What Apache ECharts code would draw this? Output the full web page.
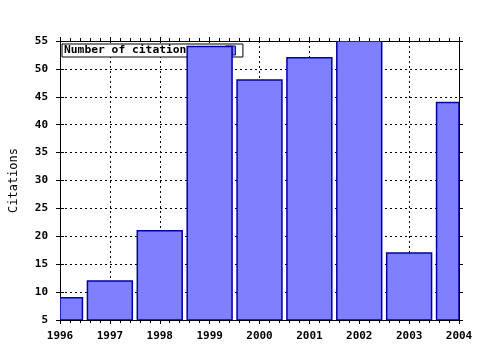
<!DOCTYPE html>
<html><head><meta charset="utf-8">
<script src="https://cdn.jsdelivr.net/npm/echarts@6/dist/echarts.min.js"></script>
<style>html,body{margin:0;padding:0;background:#fff}#c{width:480px;height:350px}</style>
</head><body><div id="c"></div>
<script>
const years = [1996, 1997, 1998, 1999, 2000, 2001, 2002, 2003, 2004];
const citations = [9, 12, 21, 54, 48, 52, 55, 17, 44];
const seriesName = 'Number of citations';
const yTitle = 'Citations';
const yMin = 5, yMax = 55;

const FONT = 'DejaVu Sans Mono';
const FILL = '#8080ff', STROKE = '#0000a0';
const chart = echarts.init(document.getElementById('c'), null, {renderer: 'canvas'});
const gridLine = {show: true, lineStyle: {color: '#000', type: [2, 3], width: 1}};
const lbl = {fontFamily: FONT, fontWeight: 'bold', fontSize: 11, color: '#000'};
chart.setOption({
  animation: false,
  backgroundColor: '#fff',
  grid: {left: 57, right: 21, top: 41, bottom: 30},
  legend: {
    left: 62, top: 44, z: 1,
    align: 'right',
    backgroundColor: '#fff', borderColor: '#000', borderWidth: 1,
    padding: [1, 7, 1, 2],
    itemWidth: 10, itemHeight: 9,
    icon: 'rect',
    formatter: n => n + '    ',
    textStyle: {fontSize: 11.3, fontFamily: FONT, fontWeight: 'bold', color: '#000'},
    data: [{name: seriesName, itemStyle: {color: FILL, borderColor: STROKE, borderWidth: 1}}]
  },
  xAxis: [{
    type: 'value', min: years[0], max: years[years.length - 1], interval: 1,
    axisLine: {show: true, lineStyle: {color: '#000', width: 1}},
    axisTick: {show: true, length: 4, inside: false, lineStyle: {color: '#000'}},
    minorTick: {show: true, splitNumber: 5, length: 3, lineStyle: {color: '#000'}},
    axisLabel: Object.assign({margin: 11, formatter: v => String(v)}, lbl),
    splitLine: gridLine
  }, {
    type: 'value', min: years[0], max: years[years.length - 1], interval: 1, position: 'top',
    axisLine: {show: true, lineStyle: {color: '#000'}},
    axisTick: {show: true, length: 4, lineStyle: {color: '#000'}},
    minorTick: {show: true, splitNumber: 5, length: 3, lineStyle: {color: '#000'}},
    axisLabel: {show: false}, splitLine: {show: false}
  }],
  yAxis: [{
    type: 'value', min: yMin, max: yMax, interval: 5,
    name: yTitle, nameLocation: 'middle', nameGap: 40,
    nameTextStyle: {fontFamily: FONT, fontWeight: 'normal', fontSize: 12, color: '#000'},
    axisLine: {show: true, lineStyle: {color: '#000'}},
    axisTick: {show: true, length: 4, lineStyle: {color: '#000'}},
    axisLabel: Object.assign({margin: 12}, lbl),
    splitLine: gridLine
  }, {
    type: 'value', min: yMin, max: yMax, interval: 5, position: 'right',
    axisLine: {show: true, lineStyle: {color: '#000'}},
    axisTick: {show: true, length: 4, lineStyle: {color: '#000'}},
    axisLabel: {show: false}, splitLine: {show: false}
  }, {
    type: 'value', min: yMin, max: yMax, interval: 5, position: 'left',
    axisLine: {show: false},
    axisTick: {show: true, inside: true, length: 4, lineStyle: {color: '#000'}},
    axisLabel: {show: false}, splitLine: {show: false}
  }],
  series: [{
    name: seriesName, type: 'custom', z: 3, clip: true,
    xAxisIndex: 0, yAxisIndex: 0,
    itemStyle: {color: FILL, borderColor: STROKE},
    encode: {x: 0, y: 1},
    renderItem: function (params, api) {
      const x = api.value(0), y = api.value(1);
      const top = api.coord([x, y]);
      const base = api.coord([x, yMin]);
      const w = api.size([1, 0])[0] * 0.9;
      const cs = params.coordSys;
      const r = echarts.graphic.clipRectByRect(
        {x: top[0] - w / 2, y: top[1], width: w, height: base[1] - top[1]},
        {x: cs.x, y: cs.y, width: cs.width, height: cs.height});
      if (!r) return null;
      return {type: 'rect', shape: r, style: {fill: FILL, stroke: STROKE, lineWidth: 1.5}};
    },
    data: years.map((y, i) => [y, citations[i]])
  }]
});
</script></body></html>
